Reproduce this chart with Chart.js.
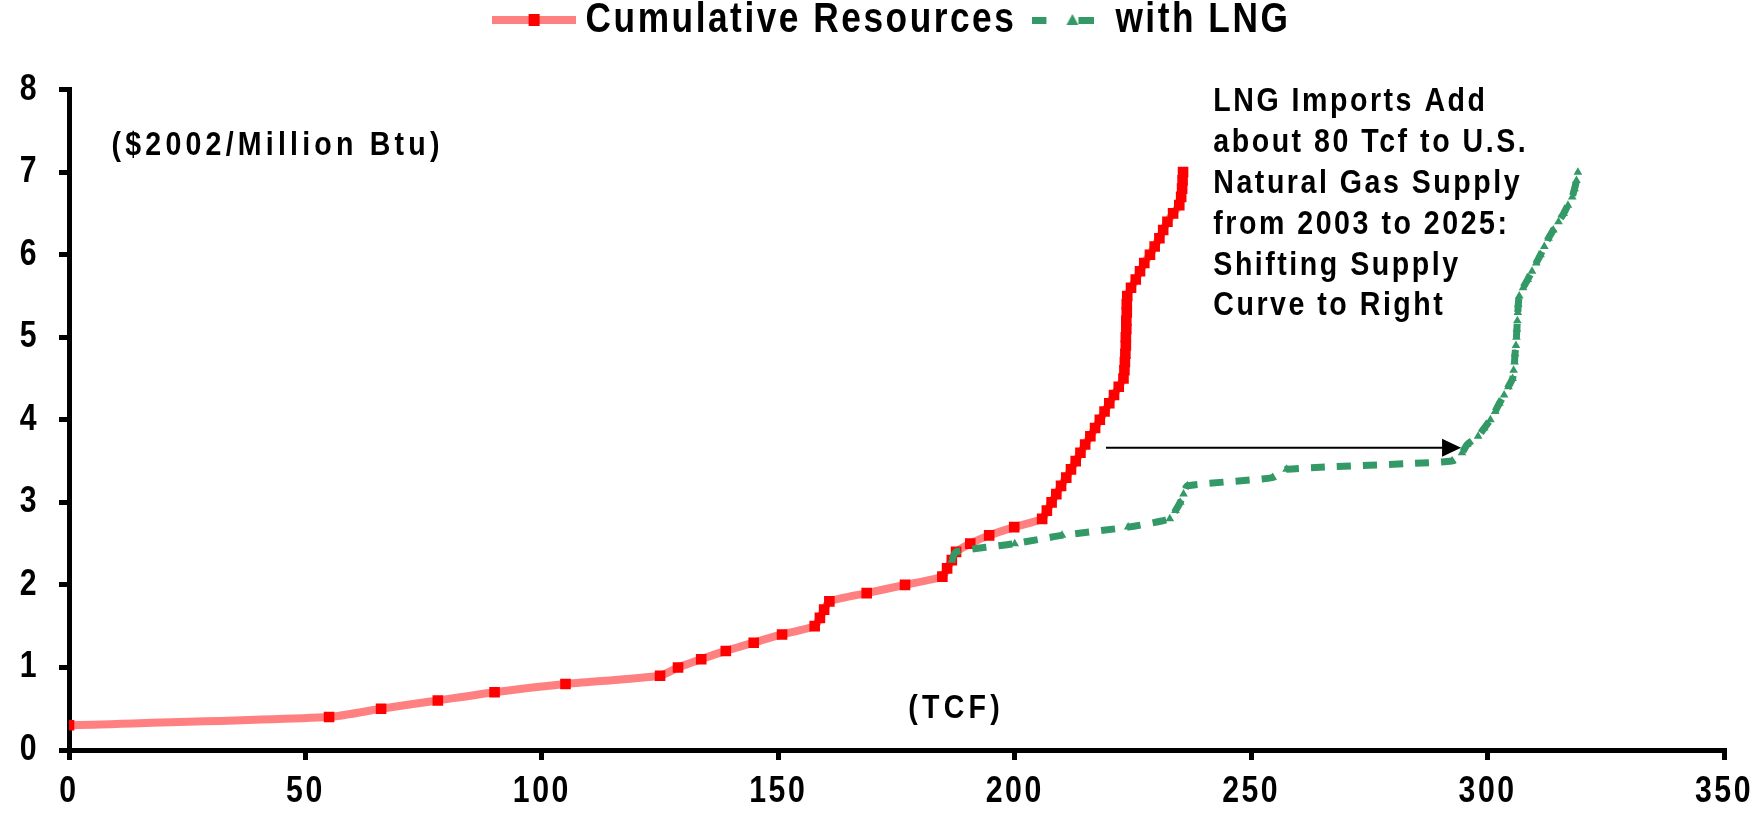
<!DOCTYPE html>
<html>
<head>
<meta charset="utf-8">
<script src="https://cdn.jsdelivr.net/npm/chart.js@4.4.1/dist/chart.umd.min.js"></script>
<style>
  html, body { margin: 0; padding: 0; background: #fff; }
  #chart { display: block; }
</style>
</head>
<body>
<canvas id="chart" width="1757" height="819"></canvas>
<script>
const FONT = "'Liberation Sans', Arial, Helvetica, sans-serif";

// axis ticks
const xTicks = [0, 50, 100, 150, 200, 250, 300, 350];
const yTicks = [0, 1, 2, 3, 4, 5, 6, 7, 8];

const seriesNames = ['Cumulative Resources', 'with LNG'];

// cumulative resources (TCF) vs price
const resX = [0, 55, 66, 78, 90, 105, 125, 128.8, 133.7, 138.9,
  144.8, 150.8, 157.7, 158.8, 159.7, 160.8, 168.7, 176.8, 184.7, 185.7,
  186.7, 187.6, 190.6, 194.6, 199.9, 205.8, 206.8, 207.8, 208.8, 209.8,
  210.9, 211.9, 212.9, 213.9, 214.9, 216.0, 217.0, 218.0, 219.0, 220.0,
  221.0, 222.0, 223.0, 223.2, 223.3, 223.4, 223.5, 223.5, 223.6, 223.6,
  223.7, 223.7, 223.8, 224.6, 225.6, 226.5, 227.4, 228.6, 229.6, 230.6,
  231.4, 232.3, 233.5, 234.8, 235.2, 235.4, 235.5, 235.6];
const resY = [0.3, 0.4, 0.5, 0.6, 0.7, 0.8, 0.9, 1.0, 1.1, 1.2,
  1.3, 1.4, 1.5, 1.6, 1.7, 1.8, 1.9, 2.0, 2.1, 2.2,
  2.3, 2.4, 2.5, 2.6, 2.7, 2.8, 2.9, 3.0, 3.1, 3.2,
  3.3, 3.4, 3.5, 3.6, 3.7, 3.8, 3.9, 4.0, 4.1, 4.2,
  4.3, 4.4, 4.5, 4.6, 4.7, 4.8, 4.9, 5.0, 5.1, 5.2,
  5.3, 5.4, 5.5, 5.6, 5.7, 5.8, 5.9, 6.0, 6.1, 6.2,
  6.3, 6.4, 6.5, 6.6, 6.7, 6.8, 6.9, 7.0];

// with LNG imports
const lngX = [186.7, 187.6, 200.0, 210.0, 224.0, 232.8, 234.0, 235.0, 235.7, 236.5,
  254.5, 257.5, 292.5, 294.6, 295.7, 298.0, 299.3, 300.6, 301.6, 302.5,
  303.5, 304.4, 305.3, 305.5, 305.7, 305.8, 306.0, 306.1, 306.2, 306.3,
  306.4, 306.5, 306.7, 307.5, 308.5, 309.4, 310.3, 311.2, 312.0, 312.9,
  313.9, 315.0, 316.1, 317.0, 317.9, 318.4, 318.8, 319.1];
const lngY = [2.3, 2.4, 2.5, 2.6, 2.7, 2.8, 2.9, 3.0, 3.1, 3.2,
  3.3, 3.4, 3.5, 3.6, 3.7, 3.8, 3.9, 4.0, 4.1, 4.2,
  4.3, 4.4, 4.5, 4.6, 4.7, 4.8, 4.9, 5.0, 5.1, 5.2,
  5.3, 5.4, 5.5, 5.6, 5.7, 5.8, 5.9, 6.0, 6.1, 6.2,
  6.3, 6.4, 6.5, 6.6, 6.7, 6.8, 6.9, 7.0];

const noteLines = ['LNG Imports Add', 'about 80 Tcf to U.S.', 'Natural Gas Supply',
  'from 2003 to 2025:', 'Shifting Supply', 'Curve to Right'];
const unitsLabel = '($2002/Million Btu)';
const axisLabel = '(TCF)';

const RED = '#ff0000';
const PINK = '#ff8080';
const GREEN = '#339966';
const SPACING = '3px';
const SQUEEZE = 0.84; // the original lettering is tall and narrow

// squeeze all text drawn on this canvas horizontally (ticks, legend, notes)
const canvas = document.getElementById('chart');
const c2d = canvas.getContext('2d');
const rawFill = c2d.fillText.bind(c2d);
const rawMeasure = c2d.measureText.bind(c2d);
c2d.fillText = (text, x, y) => {
  c2d.save();
  c2d.translate(x, y);
  c2d.scale(SQUEEZE, 1);
  rawFill(text, 0, 0);
  c2d.restore();
};
c2d.measureText = text => {
  const m = rawMeasure(text);
  return {
    width: m.width * SQUEEZE,
    actualBoundingBoxAscent: m.actualBoundingBoxAscent,
    actualBoundingBoxDescent: m.actualBoundingBoxDescent
  };
};

// legend swatches
function redSwatch() {
  const c = document.createElement('canvas');
  c.width = 84; c.height = 14;
  const g = c.getContext('2d');
  g.fillStyle = PINK;
  g.fillRect(0, 3, 84, 8);
  g.fillStyle = RED;
  g.fillRect(37, 1, 11, 12);
  return c;
}
function greenSwatch() {
  const c = document.createElement('canvas');
  c.width = 62; c.height = 14;
  const g = c.getContext('2d');
  g.fillStyle = GREEN;
  g.fillRect(0, 4, 14, 7);
  g.fillRect(46, 4, 16, 7);
  g.beginPath();
  g.moveTo(40, 1); g.lineTo(46, 12); g.lineTo(34, 12); g.closePath();
  g.fill();
  return c;
}

const spacing = {
  id: 'spacing',
  beforeUpdate(chart) { chart.ctx.letterSpacing = SPACING; },
  beforeDraw(chart) { chart.ctx.letterSpacing = SPACING; }
};

const notes = {
  id: 'notes',
  afterDatasetsDraw(chart) {
    const { ctx, scales: { x, y } } = chart;
    ctx.save();

    // arrow showing the shift of the supply curve
    const ax0 = x.getPixelForValue(219.3);
    const ax1 = x.getPixelForValue(294.4);
    const ay = y.getPixelForValue(3.66);
    ctx.strokeStyle = '#000';
    ctx.fillStyle = '#000';
    ctx.lineWidth = 2;
    ctx.beginPath();
    ctx.moveTo(ax0, ay);
    ctx.lineTo(ax1 - 15, ay);
    ctx.stroke();
    ctx.beginPath();
    ctx.moveTo(ax1, ay);
    ctx.lineTo(ax1 - 19, ay - 9);
    ctx.lineTo(ax1 - 19, ay + 9);
    ctx.closePath();
    ctx.fill();

    ctx.letterSpacing = SPACING;
    ctx.font = `bold 34px ${FONT}`;
    ctx.textAlign = 'left';
    ctx.textBaseline = 'middle';
    const nx = x.getPixelForValue(242);
    const ny = y.getPixelForValue(7.85);
    noteLines.forEach((line, i) => ctx.fillText(line, nx, ny + i * 40.8));

    // the two axis captions are set a little wider
    ctx.letterSpacing = '5px';
    ctx.fillText(unitsLabel, x.getPixelForValue(9), y.getPixelForValue(7.32));
    ctx.fillText(axisLabel, x.getPixelForValue(177.5), y.getPixelForValue(0.5));
    ctx.restore();
  }
};

const tickFont = { family: FONT, size: 36, weight: 'bold' };

new Chart(canvas, {
  type: 'scatter',
  data: {
    datasets: [
      {
        label: seriesNames[0],
        data: resX.map((x, i) => ({ x, y: resY[i] })),
        showLine: true,
        borderColor: PINK,
        borderWidth: 8,
        tension: 0.2,
        pointStyle: 'rect',
        pointRadius: 7.5,
        pointBackgroundColor: RED,
        pointBorderWidth: 0,
        order: 1
      },
      {
        label: seriesNames[1],
        data: lngX.map((x, i) => ({ x, y: lngY[i] })),
        showLine: true,
        borderColor: GREEN,
        borderWidth: 7,
        borderDash: [14, 12],
        tension: 0.2,
        pointStyle: 'triangle',
        pointRadius: 5,
        pointBackgroundColor: GREEN,
        pointBorderWidth: 0,
        order: 0
      }
    ]
  },
  options: {
    responsive: false,
    animation: false,
    devicePixelRatio: 1,
    layout: { padding: { top: -17, right: 0, left: 0, bottom: 0 } },
    plugins: {
      tooltip: { enabled: false },
      legend: {
        position: 'top',
        fullSize: false, // centred over the plot area, not the canvas
        labels: {
          color: '#000',
          font: { family: FONT, size: 42, weight: 'bold' },
          usePointStyle: true,
          pointStyleWidth: 62,
          padding: 16,
          generateLabels: () => [
            { text: seriesNames[0], pointStyle: redSwatch(), datasetIndex: 0, lineWidth: 0, fontColor: '#000' },
            { text: seriesNames[1], pointStyle: greenSwatch(), datasetIndex: 1, lineWidth: 0, fontColor: '#000' }
          ]
        }
      },
      // empty spacer between legend and plot
      title: {
        display: true,
        text: '',
        weight: 500,
        fullSize: false,
        font: { size: 10, lineHeight: 1 },
        padding: { top: 28.6, bottom: 0 }
      }
    },
    scales: {
      x: {
        type: 'linear',
        min: 0,
        max: 350,
        afterBuildTicks: s => { s.ticks = xTicks.map(v => ({ value: v })); },
        afterFit: s => { s.height = 69; s.paddingRight = 33; s.paddingLeft = 0; },
        border: { display: true, color: '#000', width: 5 },
        grid: { drawOnChartArea: false, drawTicks: true, tickLength: 10, lineWidth: 5, color: '#000' },
        ticks: { color: '#000', font: tickFont, padding: 10, maxRotation: 0 }
      },
      y: {
        min: 0,
        max: 8,
        afterBuildTicks: s => { s.ticks = yTicks.map(v => ({ value: v })); },
        afterFit: s => { s.width = 69; },
        border: { display: true, color: '#000', width: 5 },
        grid: { drawOnChartArea: false, drawTicks: true, tickLength: 10, lineWidth: 5, color: '#000' },
        ticks: { color: '#000', font: tickFont, padding: 20 }
      }
    }
  },
  plugins: [spacing, notes]
});
</script>
</body>
</html>
